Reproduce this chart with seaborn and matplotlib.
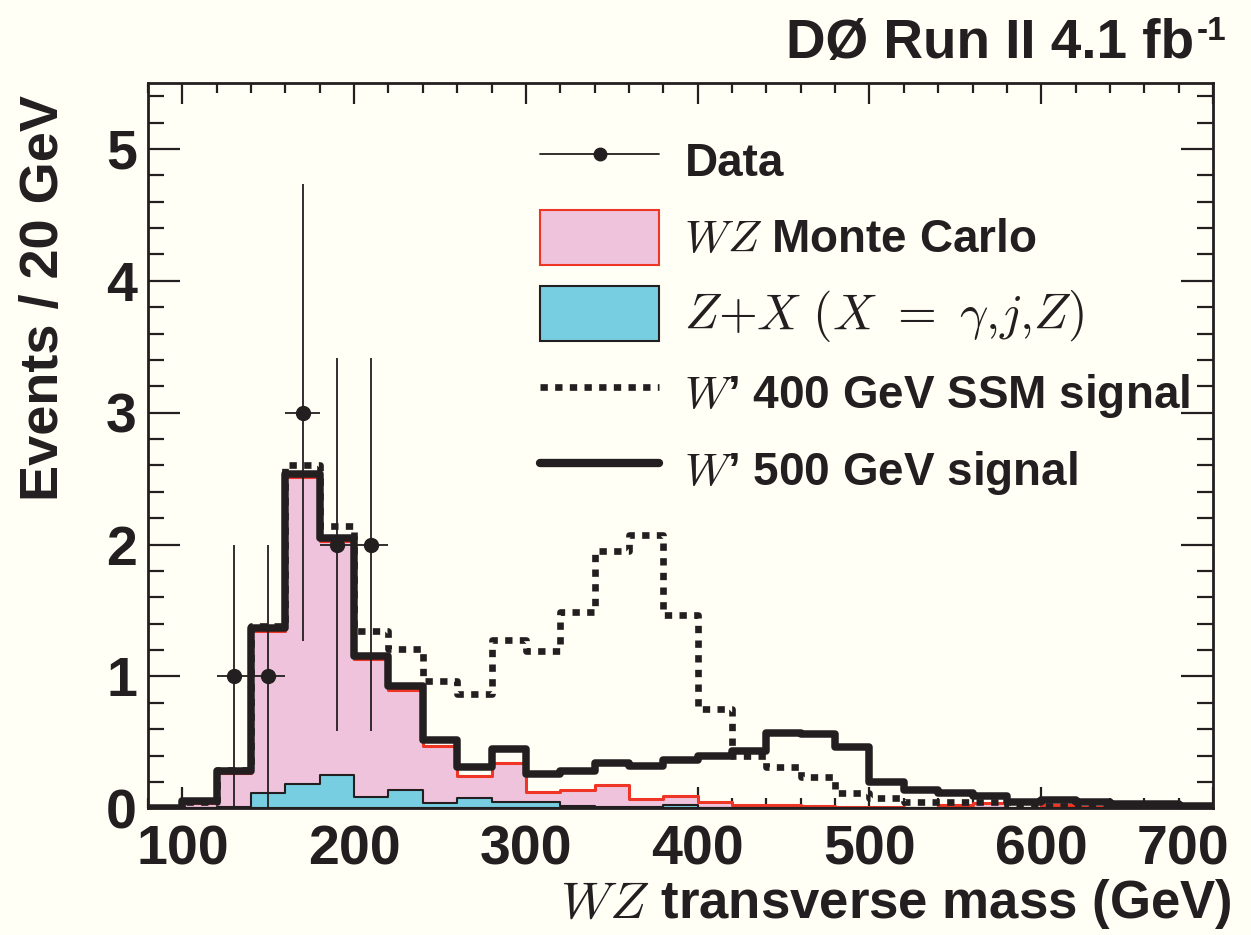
import numpy as np
import pandas as pd
import seaborn as sns
import matplotlib
matplotlib.use("Agg")
import matplotlib.pyplot as plt
from matplotlib.lines import Line2D
from matplotlib.patches import Patch
import matplotlib.transforms as mtrans

# ---------------- data ----------------
bin_edges = list(range(80, 701, 20))            # 20 GeV bins, 80..700
wz_mc = [0.0, 0.04, 0.264, 1.341, 2.51, 2.03, 1.133, 0.899, 0.475, 0.244,
         0.343, 0.123, 0.138, 0.174, 0.07, 0.095, 0.045, 0.027, 0.027, 0.015,
         0.012, 0.012, 0.004, 0.027, 0.04, 0.004, 0.027, 0.012, 0.004, 0.004, 0.003]
z_plus_x = [0.0, 0.0, 0.01, 0.118, 0.184, 0.25, 0.088, 0.138, 0.042, 0.075,
            0.05, 0.05, 0.015, 0.01, 0.01, 0.025, 0.005, 0.0, 0.0, 0.0,
            0.0, 0.0, 0.0, 0.0, 0.0, 0.0, 0.0, 0.0, 0.0, 0.0, 0.0]
wprime_400 = [0.0, 0.05, 0.29, 1.385, 2.60, 2.14, 1.347, 1.21, 0.964, 0.863,
              1.276, 1.19, 1.485, 1.95, 2.07, 1.468, 0.75, 0.395, 0.314, 0.234,
              0.113, 0.076, 0.05, 0.05, 0.05, 0.017, 0.015, 0.01, 0.01, 0.005, 0.005]
wprime_500 = [0.0, 0.057, 0.284, 1.367, 2.535, 2.05, 1.158, 0.93, 0.52, 0.31,
              0.446, 0.26, 0.284, 0.344, 0.32, 0.37, 0.40, 0.435, 0.571, 0.561,
              0.465, 0.20, 0.138, 0.113, 0.095, 0.045, 0.063, 0.05, 0.032, 0.03, 0.015]
data_mass = [130, 150, 170, 190, 210]
data_events = [1, 1, 3, 2, 2]
data_err = [1.0, 1.0, 1.732, 1.414, 1.414]
data_xerr = 10
x_ticks = [100, 200, 300, 400, 500, 600, 700]
y_ticks = [0, 1, 2, 3, 4, 5]

# ---------------- style ----------------
BG = "#fffff5"
INK = "#231f20"
PINK = "#efc3dc"
RED = "#ee3526"
CYAN = "#77cee0"

sns.set_theme(style="ticks")
plt.rcParams["font.family"] = ["Liberation Sans", "DejaVu Sans"]
plt.rcParams["font.weight"] = "bold"
plt.rcParams["mathtext.fontset"] = "custom"
plt.rcParams["mathtext.rm"] = "Liberation Sans:bold"
plt.rcParams["mathtext.bf"] = "Liberation Sans:bold"
plt.rcParams["mathtext.it"] = "Liberation Sans:bold:italic"

fig = plt.figure(figsize=(12.51, 9.35), dpi=100, facecolor=BG)
ax = fig.add_axes([148 / 1251, 1 - 808.3 / 935, (1213 - 148) / 1251, (808.3 - 83) / 935])
ax.set_facecolor(BG)

edges = [float(e) for e in bin_edges]
centers = [0.5 * (a + b) for a, b in zip(edges[:-1], edges[1:])]
df = pd.DataFrame({"mass": centers, "wz": wz_mc, "zx": z_plus_x,
                   "w400": wprime_400, "w500": wprime_500})

sns.histplot(data=df, x="mass", weights="wz", bins=edges, element="step",
             fill=True, facecolor=PINK, edgecolor=RED, linewidth=2.2,
             alpha=1, ax=ax, zorder=2)
sns.histplot(data=df, x="mass", weights="zx", bins=edges, element="step",
             fill=True, facecolor=CYAN, edgecolor=INK, linewidth=1.5,
             alpha=1, ax=ax, zorder=3)
sns.histplot(data=df, x="mass", weights="w400", bins=edges, element="step",
             fill=False, color=INK, linewidth=4.8, linestyle=(0, (1.1, 1.1)),
             ax=ax, zorder=4)
sns.histplot(data=df, x="mass", weights="w500", bins=edges, element="step",
             fill=False, color=INK, linewidth=5.4, ax=ax, zorder=5)

ax.errorbar(data_mass, data_events, yerr=data_err, xerr=data_xerr, fmt="o",
            color=INK, ms=10, elinewidth=1.3, capsize=0, zorder=6)

ax.set_xlim(80, 700)
ax.set_ylim(0, 5.5)
ax.set_xticks(x_ticks)
ax.set_xticks(np.arange(80, 701, 20), minor=True)
ax.set_yticks(y_ticks)
ax.set_yticks(np.arange(0, 5.51, 0.2), minor=True)
ax.set_xticklabels([str(t) for t in x_ticks])
ax.set_yticklabels([str(t) for t in y_ticks])
ax.set_xlabel("")
ax.set_ylabel("")

for s in ax.spines.values():
    s.set_linewidth(2.0)
    s.set_color(INK)
    s.set_visible(True)
    s.set_zorder(10)

ax.tick_params(which="both", direction="in", top=True, right=True, color=INK, width=1.6)
ax.tick_params(axis="x", which="major", length=15, pad=12, labelsize=40, labelcolor=INK)
ax.tick_params(axis="x", which="minor", length=7.5)
ax.tick_params(axis="y", which="major", length=23, pad=8, labelsize=40, labelcolor=INK)
ax.tick_params(axis="y", which="minor", length=11.5)
for lab in ax.get_xticklabels() + ax.get_yticklabels():
    lab.set_fontweight("bold")

# shift the last x tick label to the left, as in the original
last = ax.get_xticklabels()[-1]
last.set_transform(last.get_transform() + mtrans.ScaledTranslation(-0.30, 0, fig.dpi_scale_trans))

# title with a small superscript
renderer = fig.canvas.get_renderer()
sup = fig.text(1226 / 1251, 1 - 40 / 935, "-1", ha="right", va="baseline",
               fontsize=24, fontweight="bold", color=INK)
sup_bb = sup.get_window_extent(renderer=renderer)
fig.text((sup_bb.x0 - 2) / 1251, 1 - 58 / 935, "DØ Run II 4.1 fb", ha="right", va="baseline",
         fontsize=39.5, fontweight="bold", color=INK)

fig.text(1232 / 1251, 1 - 918 / 935, r"$WZ$ transverse mass (GeV)", ha="right", va="baseline",
         fontsize=38, fontweight="bold", color=INK, math_fontfamily="cm")
fig.text(58 / 1251, 1 - 95 / 935, "Events / 20 GeV", ha="right", va="baseline",
         rotation=90, rotation_mode="anchor", fontsize=39, fontweight="bold", color=INK)

# legend
handles = [
    Line2D([], [], color=INK, lw=1.3, marker="o", ms=9),
    Patch(facecolor=PINK, edgecolor=RED, linewidth=1.5),
    Patch(facecolor=CYAN, edgecolor=INK, linewidth=1.5),
    Line2D([], [], color=INK, lw=4.8, linestyle=(0, (1.1, 1.1))),
    Line2D([], [], color=INK, lw=6.0),
]
labels = [
    "Data",
    r"$WZ$ Monte Carlo",
    r"$Z{+}X\ (X\ =\ \gamma{,}j{,}Z)$",
    r"$W$’ 400 GeV SSM signal",
    r"$W$’ 500 GeV signal",
]
leg = ax.legend(handles, labels, loc="upper left",
                bbox_to_anchor=(540 / 1251, 1 - 133 / 935), bbox_transform=fig.transFigure,
                frameon=False, fontsize=33, handlelength=2.6, handleheight=1.47,
                handletextpad=0.55, labelspacing=0.47, borderpad=0, borderaxespad=0)
for i, t in enumerate(leg.get_texts()):
    t.set_fontweight("bold")
    t.set_color(INK)
    t.set_math_fontfamily("cm")
    if i == 2:
        t.set_fontsize(36)

fig.savefig("out.png", dpi=100, facecolor=BG)
